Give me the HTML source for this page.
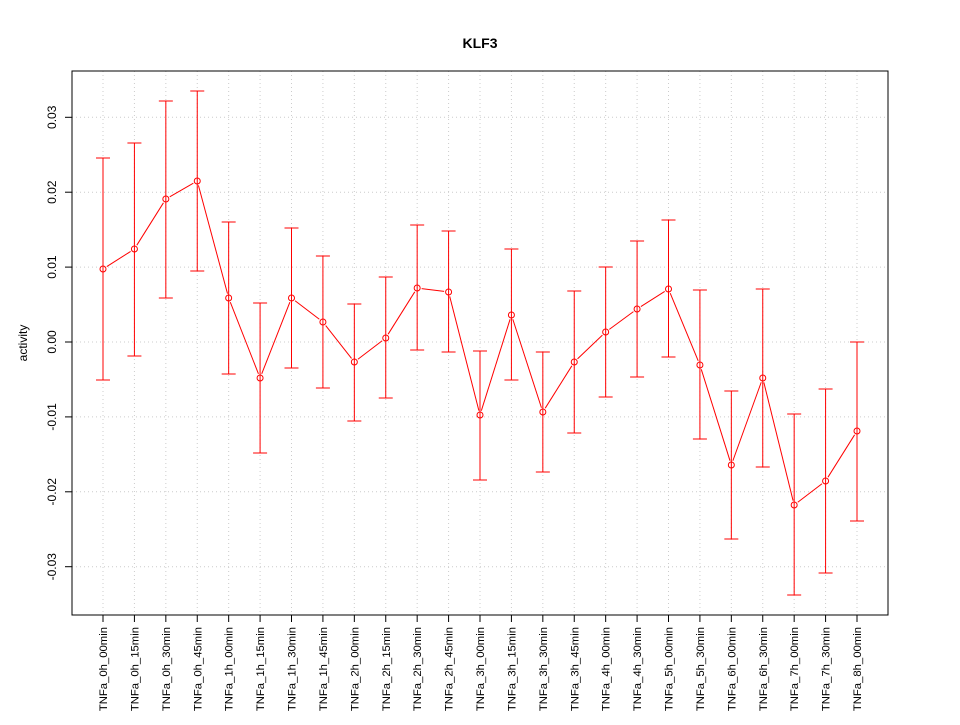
<!DOCTYPE html>
<html><head><style>body{margin:0;background:#fff}</style></head><body>
<svg width="960" height="720" xmlns="http://www.w3.org/2000/svg" font-family="Liberation Sans, sans-serif">
<rect width="960" height="720" fill="#fff"/>
<text x="480" y="48" text-anchor="middle" font-size="14" font-weight="bold">KLF3</text>
<g id="grid" stroke="#ccc" stroke-dasharray="1,3" stroke-width="1"></g>
<rect x="72" y="71" width="816" height="544" fill="none" stroke="#000"/>
<g id="yax" font-size="12"></g>
<text transform="translate(27,343) rotate(-90)" text-anchor="middle" font-size="12">activity</text>
<g id="xax" font-size="11.3"></g>
<g id="data" stroke="#f00" fill="none"></g>
</svg>
<script>
const ns="http://www.w3.org/2000/svg";
function el(p,t,a,txt){const e=document.createElementNS(ns,t);for(const k in a)e.setAttribute(k,a[k]);if(txt)e.textContent=txt;document.getElementById(p).appendChild(e);return e;}
const d=[[269,158,380],[249,143,356],[199,101,298],[181,91,271],[298,222,374],[378,303,453],[298,228,368],[322,256,388],[362,304,421],[338,277,398],[288,225,350],[292,231,352],[415,351,480],[315,249,380],[412,352,472],[362,291,433],[332,267,397],[309,241,377],[289,220,357],[365,290,439],[465,391,539],[378,289,467],[505,414,595],[481,389,573],[431,342,521]];
const labels=["TNFa_0h_00min","TNFa_0h_15min","TNFa_0h_30min","TNFa_0h_45min","TNFa_1h_00min","TNFa_1h_15min","TNFa_1h_30min","TNFa_1h_45min","TNFa_2h_00min","TNFa_2h_15min","TNFa_2h_30min","TNFa_2h_45min","TNFa_3h_00min","TNFa_3h_15min","TNFa_3h_30min","TNFa_3h_45min","TNFa_4h_00min","TNFa_4h_30min","TNFa_5h_00min","TNFa_5h_30min","TNFa_6h_00min","TNFa_6h_30min","TNFa_7h_00min","TNFa_7h_30min","TNFa_8h_00min"];
const X=i=>103+i*754/24;
const yv=[0.03,0.02,0.01,0,-0.01,-0.02,-0.03],yl=["0.03","0.02","0.01","0.00","-0.01","-0.02","-0.03"];
yv.forEach((v,i)=>{const y=342-v*7490;
el("grid","line",{x1:72,x2:888,y1:y,y2:y});
el("yax","line",{x1:65,x2:72,y1:y,y2:y,stroke:"#000"});
el("yax","text",{transform:`translate(56,${y}) rotate(-90)`,"text-anchor":"middle"},yl[i]);});
d.forEach((p,i)=>{const x=X(i);
el("grid","line",{x1:x,x2:x,y1:71,y2:615});
el("xax","line",{x1:x,x2:x,y1:615,y2:622,stroke:"#000"});
el("xax","text",{transform:`translate(${x+4},627) rotate(-90)`,"text-anchor":"end"},labels[i]);
el("data","line",{x1:x,x2:x,y1:p[1],y2:p[2]});
el("data","line",{x1:x-7,x2:x+7,y1:p[1],y2:p[1]});
el("data","line",{x1:x-7,x2:x+7,y1:p[2],y2:p[2]});
el("data","circle",{cx:x,cy:p[0],r:3});});
for(let i=0;i<24;i++){const x1=X(i),y1=d[i][0],x2=X(i+1),y2=d[i+1][0];const dx=x2-x1,dy=y2-y1,L=Math.hypot(dx,dy),s=4.5/L;
el("data","line",{x1:x1+dx*s,y1:y1+dy*s,x2:x2-dx*s,y2:y2-dy*s});}
</script>
</body></html>
